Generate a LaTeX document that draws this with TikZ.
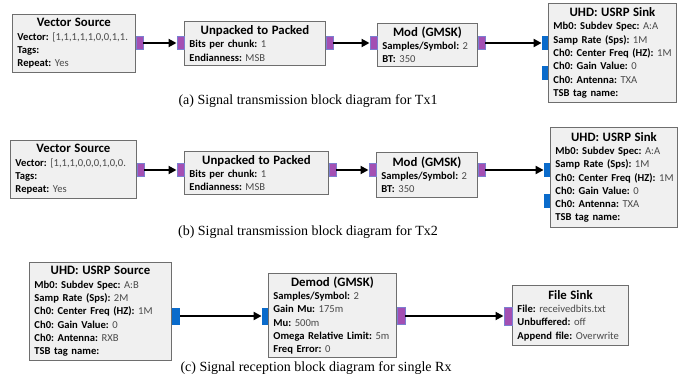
\documentclass[tikz,border=0pt]{standalone}
\usepackage{fontspec}
\setmainfont{Carlito}
\newfontfamily\capfont{Liberation Serif}
\usetikzlibrary{arrows.meta,positioning}
\definecolor{blkfill}{HTML}{F0F0F0}
\definecolor{blkedge}{HTML}{6E6E6E}
\definecolor{valgray}{HTML}{4A4A4A}
\definecolor{pportfill}{HTML}{A34FB3}
\definecolor{pportedge}{HTML}{7B7FD0}
\definecolor{bportfill}{HTML}{0A6BCB}
\frenchspacing
\newcommand{\blkhead}[1]{\makebox[\linewidth]{\fontsize{12.8}{13.3}\selectfont\bfseries #1}}
\newcommand{\prm}[2]{\mbox{\textbf{#1:} \textcolor{valgray}{#2}}}
\tikzset{
  blk/.style={draw=blkedge, fill=blkfill, line width=0.9pt, anchor=north west,
    align=left, inner xsep=5pt, inner ysep=2pt, font=\fontsize{10.6}{13.3}\selectfont},
  pport/.style={draw=pportedge, fill=pportfill, line width=0.5pt,
    minimum width=7pt, minimum height=13pt, inner sep=0pt},
  bport/.style={fill=bportfill, minimum width=6pt, minimum height=14pt, inner sep=0pt},
  flow/.style={line width=2.2pt, -{Triangle[length=8pt,width=8pt]}},
  caption/.style={font=\capfont\fontsize{14}{16}\selectfont}
}
\begin{document}
\begin{tikzpicture}[x=1pt,y=-1pt]
  \useasboundingbox (0,0) rectangle (694,391);
  % (a) Tx1
  \coordinate (rowa) at (0,43);
  \node[blk, text width=113pt, minimum height=58pt] (vs1) at (12,14)
    {\blkhead{Vector Source}\\ \prm{Vector}{[1,1,1,1,1,0,0,1,1.}\\ \prm{Tags}{}\\ \prm{Repeat}{Yes}};
  \node[blk, text width=131pt, minimum height=44pt] (up1) at (184,21)
    {\blkhead{Unpacked to Packed}\\ \prm{Bits per chunk}{1}\\ \prm{Endianness}{MSB}};
  \node[blk, text width=90pt, minimum height=43pt] (mod1) at (377,23)
    {\blkhead{Mod (GMSK)}\\ \prm{Samples/Symbol}{2}\\ \prm{BT}{350}};
  \node[blk, text width=118pt, minimum height=99pt] (snk1) at (548,3)
    {\blkhead{UHD: USRP Sink}\\ \prm{Mb0: Subdev Spec}{A:A}\\ \prm{Samp Rate (Sps)}{1M}\\
     \prm{Ch0: Center Freq (HZ)}{1M}\\ \prm{Ch0: Gain Value}{0}\\ \prm{Ch0: Antenna}{TXA}\\
     \prm{TSB tag name}{}};
  \node[pport, anchor=west] (vs1-out) at (vs1.east |- rowa) {};
  \node[pport, anchor=east] (up1-in) at (up1.west |- rowa) {};
  \node[pport, anchor=west] (up1-out) at (up1.east |- rowa) {};
  \node[pport, anchor=east] (mod1-in) at (mod1.west |- rowa) {};
  \node[pport, anchor=west] (mod1-out) at (mod1.east |- rowa) {};
  \node[bport, anchor=east] (snk1-in) at (snk1.west |- rowa) {};
  \node[bport, anchor=east] (snk1-in2) at ([yshift=-30pt]snk1-in.east) {};
  \draw[flow] (vs1-out) -- (up1-in);
  \draw[flow] (up1-out) -- (mod1-in);
  \draw[flow] (mod1-out) -- (snk1-in);
  \node[caption] (capa) at (308,101) {(a) Signal transmission block diagram for Tx1};
  % (b) Tx2
  \coordinate (rowb) at (0,170);
  \node[blk, text width=116pt, minimum height=58pt] (vs2) at (10,140)
    {\blkhead{Vector Source}\\ \prm{Vector}{[1,1,1,0,0,0,1,0,0.}\\ \prm{Tags}{}\\ \prm{Repeat}{Yes}};
  \node[blk, text width=134pt, minimum height=43pt] (up2) at (184,151)
    {\blkhead{Unpacked to Packed}\\ \prm{Bits per chunk}{1}\\ \prm{Endianness}{MSB}};
  \node[blk, text width=91pt, minimum height=45pt] (mod2) at (376,152)
    {\blkhead{Mod (GMSK)}\\ \prm{Samples/Symbol}{2}\\ \prm{BT}{350}};
  \node[blk, text width=117pt, minimum height=100pt] (snk2) at (550,127)
    {\blkhead{UHD: USRP Sink}\\ \prm{Mb0: Subdev Spec}{A:A}\\ \prm{Samp Rate (Sps)}{1M}\\
     \prm{Ch0: Center Freq (HZ)}{1M}\\ \prm{Ch0: Gain Value}{0}\\ \prm{Ch0: Antenna}{TXA}\\
     \prm{TSB tag name}{}};
  \node[pport, anchor=west] (vs2-out) at (vs2.east |- rowb) {};
  \node[pport, anchor=east] (up2-in) at (up2.west |- rowb) {};
  \node[pport, anchor=west] (up2-out) at (up2.east |- rowb) {};
  \node[pport, anchor=east] (mod2-in) at (mod2.west |- rowb) {};
  \node[pport, anchor=west] (mod2-out) at (mod2.east |- rowb) {};
  \node[bport, anchor=east] (snk2-in) at (snk2.west |- rowb) {};
  \node[bport, anchor=east] (snk2-in2) at ([yshift=-31pt]snk2-in.east) {};
  \draw[flow] (vs2-out) -- (up2-in);
  \draw[flow] (up2-out) -- (mod2-in);
  \draw[flow] (mod2-out) -- (snk2-in);
  \node[caption] (capb) at (308,232) {(b) Signal transmission block diagram for Tx2};
  % (c) Rx
  \coordinate (rowc) at (0,316);
  \node[blk, text width=132pt, minimum height=98pt] (src) at (29,262)
    {\blkhead{UHD: USRP Source}\\ \prm{Mb0: Subdev Spec}{A:B}\\ \prm{Samp Rate (Sps)}{2M}\\
     \prm{Ch0: Center Freq (HZ)}{1M}\\ \prm{Ch0: Gain Value}{0}\\ \prm{Ch0: Antenna}{RXB}\\
     \prm{TSB tag name}{}};
  \node[blk, text width=118pt, minimum height=84pt] (dem) at (268,273)
    {\blkhead{Demod (GMSK)}\\ \prm{Samples/Symbol}{2}\\ \prm{Gain Mu}{175m}\\ \prm{Mu}{500m}\\
     \prm{Omega Relative Limit}{5m}\\ \prm{Freq Error}{0}};
  \node[blk, text width=106pt, minimum height=60pt] (fsk) at (512,285)
    {\blkhead{File Sink}\\ \prm{File}{receivedbits.txt}\\ \prm{Unbuffered}{off}\\
     \prm{Append file}{Overwrite}};
  \node[bport, anchor=west, minimum width=8pt, minimum height=17pt] (src-out) at (src.east |- rowc) {};
  \node[bport, anchor=east, minimum height=17pt] (dem-in) at (dem.west |- rowc) {};
  \node[pport, anchor=west, minimum width=8pt, minimum height=17pt] (dem-out) at (dem.east |- rowc) {};
  \node[pport, anchor=east, minimum width=8pt, minimum height=18pt] (fsk-in) at (fsk.west |- rowc) {};
  \draw[flow] (src-out) -- (dem-in);
  \draw[flow] (dem-out) -- (fsk-in);
  \node[caption] (capc) at (316,368) {(c) Signal reception block diagram for single Rx};
\end{tikzpicture}
\end{document}
